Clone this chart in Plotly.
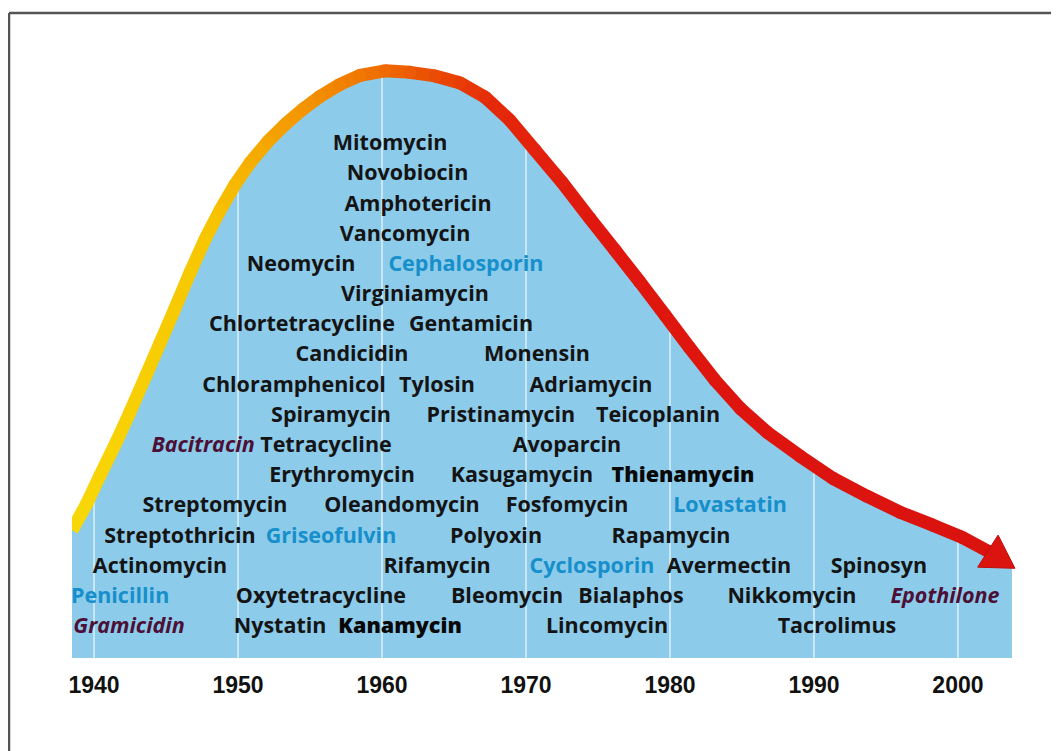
import numpy as np
import plotly.graph_objects as go
from plotly.colors import sample_colorscale

# ---------------- data ----------------
# discovery curve (year, relative level); last point = arrow tip
curve_years = [1938.47, 1939.51, 1940.42, 1941.60, 1942.50, 1943.61, 1944.58, 1945.63,
               1946.67, 1947.71, 1948.75, 1949.79, 1950.83, 1952.08, 1953.26, 1954.51,
               1955.69, 1957.08, 1958.47, 1960.21, 1961.94, 1963.68, 1965.42, 1967.15,
               1968.89, 1970.63, 1972.50, 1974.44, 1976.18, 1977.92, 1979.65, 1981.39,
               1983.13, 1984.86, 1986.74, 1989.03, 1991.32, 1993.68, 1995.97, 1998.26,
               2000.28, 2002.08, 2003.96]
curve_level = [4.23, 5.13, 6.05, 7.21, 8.15, 9.36, 10.43, 11.59,
               12.77, 13.87, 14.83, 15.68, 16.40, 17.11, 17.67, 18.18,
               18.60, 19.00, 19.30, 19.45, 19.40, 19.28, 19.05, 18.58,
               17.81, 16.82, 15.76, 14.56, 13.51, 12.45, 11.36, 10.26,
               9.20, 8.28, 7.48, 6.69, 5.95, 5.36, 4.83, 4.40,
               4.00, 3.54, 2.97]

names = ["Mitomycin", "Novobiocin", "Amphotericin", "Vancomycin",
         "Neomycin", "Cephalosporin", "Virginiamycin",
         "Chlortetracycline", "Gentamicin", "Candicidin", "Monensin",
         "Chloramphenicol", "Tylosin", "Adriamycin",
         "Spiramycin", "Pristinamycin", "Teicoplanin",
         "Bacitracin", "Tetracycline", "Avoparcin",
         "Erythromycin", "Kasugamycin", "Thienamycin",
         "Streptomycin", "Oleandomycin", "Fosfomycin", "Lovastatin",
         "Streptothricin", "Griseofulvin", "Polyoxin", "Rapamycin",
         "Actinomycin", "Rifamycin", "Cyclosporin", "Avermectin", "Spinosyn",
         "Penicillin", "Oxytetracycline", "Bleomycin", "Bialaphos", "Nikkomycin", "Epothilone",
         "Gramicidin", "Nystatin", "Kanamycin", "Lincomycin", "Tacrolimus"]
label_year = [1960.56, 1961.77, 1962.50, 1961.60,
              1954.38, 1965.83, 1962.29,
              1954.44, 1966.18, 1957.92, 1970.76,
              1953.89, 1963.82, 1974.51,
              1956.46, 1968.26, 1979.17,
              1947.57, 1956.11, 1972.85,
              1957.22, 1969.72, 1980.90,
              1948.40, 1961.39, 1972.85, 1984.17,
              1945.97, 1956.46, 1967.92, 1980.07,
              1944.58, 1963.82, 1974.58, 1984.10, 1994.51,
              1941.81, 1955.76, 1968.68, 1977.29, 1988.47, 1999.10,
              1942.43, 1952.92, 1961.25, 1975.63, 1991.60]
label_row = [17, 16, 15, 14,
             13, 13, 12,
             11, 11, 10, 10,
             9, 9, 9,
             8, 8, 8,
             7, 7, 7,
             6, 6, 6,
             5, 5, 5, 5,
             4, 4, 4, 4,
             3, 3, 3, 3, 3,
             2, 2, 2, 2, 2, 2,
             1, 1, 1, 1, 1]
label_kind = ["std", "std", "std", "std",
              "std", "blue", "std",
              "std", "std", "std", "std",
              "std", "std", "std",
              "std", "std", "std",
              "italic", "std", "std",
              "std", "std", "heavy",
              "std", "std", "std", "blue",
              "std", "blue", "std", "std",
              "std", "std", "blue", "std", "std",
              "blue", "std", "std", "std", "std", "italic",
              "italic", "std", "heavy", "std", "std"]

decades = [1940, 1950, 1960, 1970, 1980, 1990, 2000]
decade_labels = ["1940", "1950", "1960", "1970", "1980", "1990", "2000"]

# ---------------- layout geometry ----------------
# the page body adds an 8 px margin, so figure pixels are screen pixels minus 8
W, H = 1059, 751
ML, MR, MT, MB = 64, 47, 12, 101
PW, PH = W - ML - MR, H - MT - MB
X0, X1 = 1938.47, 2004.31
Y0, Y1 = 0.0, PH / 30.19
SX, SY = PW / (X1 - X0), PH / (Y1 - Y0)
BLUE_END = 2003.75
BAND_W = 13
HEAD_HALF = 19

def to_px(x, y):
    return ML + (x - X0) * SX, MT + (Y1 - y) * SY

def to_data(px, py):
    return X0 + (px - ML) / SX, Y1 - (py - MT) / SY

cx = np.array(curve_years)
cy = np.array(curve_level)

fig = go.Figure()

# blue area
fig.add_trace(go.Scatter(
    x=list(cx[:-1]) + [BLUE_END], y=list(cy[:-1]) + [cy[-1]],
    fill="tozeroy", fillcolor="#8ccbea", mode="lines", line=dict(width=0),
    hoverinfo="skip", showlegend=False))

# decade lines inside the area
for d in decades:
    top = float(np.interp(d, cx, cy))
    fig.add_trace(go.Scatter(x=[d, d], y=[0, top], mode="lines",
                             line=dict(color="rgba(255,255,255,0.7)", width=1.5),
                             hoverinfo="skip", showlegend=False))

# gradient band (yellow -> orange -> red), stops by year
stop_years = [1938.47, 1948.0, 1952.0, 1956.0, 1960.0, 1964.0, 1968.0, 1975.0, 2004.31]
stop_cols = ["#f8d808", "#f7c600", "#f5a600", "#f28a00", "#ef6c00", "#ea4805",
             "#e4280a", "#df170e", "#da120f"]
scale = [[(y - X0) / (X1 - X0), c] for y, c in zip(stop_years, stop_cols)]
band_x = cx[:-1]
band_y = cy[:-1]
mid = np.append((band_x[:-1] + band_x[1:]) / 2, band_x[-1])
cols = sample_colorscale(scale, list(np.clip((mid - X0) / (X1 - X0), 0, 1)))
pcols = sample_colorscale(scale, list(np.clip((band_x - X0) / (X1 - X0), 0, 1)))
for i in range(len(band_x) - 1):
    fig.add_trace(go.Scatter(x=band_x[i:i + 2], y=band_y[i:i + 2], mode="lines",
                             line=dict(color=cols[i], width=BAND_W),
                             hoverinfo="skip", showlegend=False))
fig.add_trace(go.Scatter(x=band_x[1:], y=band_y[1:], mode="markers",
                         marker=dict(size=BAND_W, color=pcols[1:], line=dict(width=0)),
                         hoverinfo="skip", showlegend=False))

# arrow head
bx, by = to_px(cx[-2], cy[-2])
tx, ty = to_px(cx[-1], cy[-1])
dx, dy = tx - bx, ty - by
L = np.hypot(dx, dy)
nx, ny = -dy / L, dx / L
p1 = to_data(bx + nx * HEAD_HALF, by + ny * HEAD_HALF)
p2 = to_data(bx - nx * HEAD_HALF, by - ny * HEAD_HALF)
fig.add_trace(go.Scatter(x=[p1[0], cx[-1], p2[0], p1[0]], y=[p1[1], cy[-1], p2[1], p1[1]],
                         fill="toself", fillcolor="#dc1410", mode="lines",
                         line=dict(color="#bf0c0c", width=1),
                         hoverinfo="skip", showlegend=False))

# labels
styles = {
    "std": dict(color="#141414", weight=700, style="normal"),
    "heavy": dict(color="#080808", weight=800, style="normal"),
    "blue": dict(color="#168fcb", weight=700, style="normal"),
    "italic": dict(color="#4c1036", weight=700, style="italic"),
}
for kind, st in styles.items():
    idx = [i for i, k in enumerate(label_kind) if k == kind]
    fig.add_trace(go.Scatter(
        x=[label_year[i] for i in idx], y=[label_row[i] for i in idx],
        text=[names[i] for i in idx], mode="text", textposition="middle center",
        textfont=dict(family="Open Sans", size=21.5, color=st["color"],
                      weight=st["weight"], style=st["style"]),
        hoverinfo="skip", showlegend=False, cliponaxis=False))

# frame lines (screen x=9, y=13)
def pxp(px):
    return (px - ML) / PW

def pyp(py):
    return 1 - (py - MT) / PH

fig.add_shape(type="line", xref="paper", yref="paper",
              x0=pxp(1), x1=pxp(1062), y0=pyp(5), y1=pyp(5),
              line=dict(color="#555555", width=2.5))
fig.add_shape(type="line", xref="paper", yref="paper",
              x0=pxp(1), x1=pxp(1), y0=pyp(5), y1=pyp(755),
              line=dict(color="#555555", width=2.5))

fig.update_layout(
    width=W, height=H, margin=dict(l=ML, r=MR, t=MT, b=MB),
    paper_bgcolor="white", plot_bgcolor="white",
    xaxis=dict(range=[X0, X1], tickvals=decades, ticktext=decade_labels,
               showgrid=False, zeroline=False, showline=False, ticks="",
               ticklabelstandoff=11,
               tickfont=dict(family="Liberation Sans", size=23, color="#111111", weight="bold")),
    yaxis=dict(range=[Y0, Y1], visible=False, showgrid=False, zeroline=False),
    showlegend=False,
)

fig.write_html("out.html")
